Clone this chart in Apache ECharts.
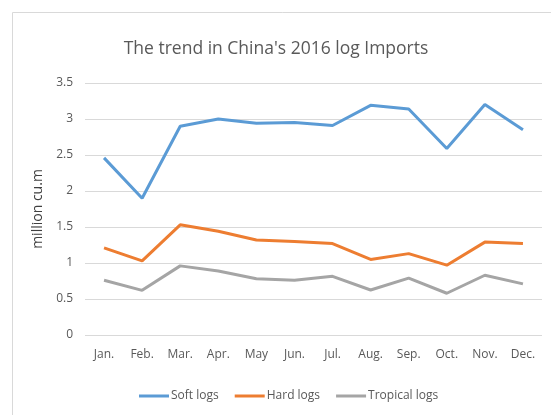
<!DOCTYPE html>
<html>
<head>
<meta charset="utf-8">
<script src="https://cdn.jsdelivr.net/npm/echarts@6/dist/echarts.min.js"></script>
<style>
  html, body { margin: 0; padding: 0; background: #fff; }
  #chart-container { width: 551px; height: 415px; }
</style>
</head>
<body>
<div id="chart-container"></div>
<script>
var months = ['Jan.', 'Feb.', 'Mar.', 'Apr.', 'May', 'Jun.', 'Jul.', 'Aug.', 'Sep.', 'Oct.', 'Nov.', 'Dec.'];
var softLogs = [2.46, 1.90, 2.90, 3.00, 2.94, 2.95, 2.91, 3.19, 3.14, 2.59, 3.20, 2.85];
var hardLogs = [1.21, 1.03, 1.53, 1.44, 1.32, 1.30, 1.27, 1.05, 1.13, 0.97, 1.29, 1.27];
var tropicalLogs = [0.76, 0.62, 0.96, 0.89, 0.78, 0.76, 0.815, 0.625, 0.79, 0.58, 0.83, 0.71];

var myChart = echarts.init(document.getElementById('chart-container'));
var font = 'Open Sans';

option = {
    animation: false,
    graphic: [
        {
            type: 'rect',
            shape: { x: 12.5, y: 12.5, width: 560, height: 430 },
            style: { fill: 'none', stroke: '#d9d9d9', lineWidth: 1 }
        }
    ],
    title: {
        text: "The trend in China's 2016 log Imports",
        left: 271,
        textAlign: 'center',
        top: 35,
        textStyle: { fontFamily: font, fontSize: 17.5, fontWeight: 'normal', color: '#595959' }
    },
    legend: {
        bottom: 8,
        left: 134,
        itemWidth: 30,
        itemHeight: 3,
        itemGap: 16,
        icon: 'rect',
        textStyle: { fontFamily: font, fontSize: 12, color: '#595959', padding: [0, 0, 0, -3] },
        data: ['Soft logs', 'Hard logs', 'Tropical logs']
    },
    grid: {
        left: 85,
        right: 9,
        top: 83,
        bottom: 80
    },
    xAxis: {
        type: 'category',
        data: months,
        boundaryGap: true,
        axisLine: { show: false },
        axisTick: { show: false },
        axisLabel: { fontFamily: font, fontSize: 12, color: '#595959', margin: 14 }
    },
    yAxis: {
        type: 'value',
        min: 0,
        max: 3.5,
        interval: 0.5,
        name: 'million cu.m',
        nameLocation: 'middle',
        nameGap: 30,
        nameTextStyle: { fontFamily: font, fontSize: 14, color: '#404040' },
        axisLine: { show: false },
        axisTick: { show: false },
        axisLabel: { fontFamily: font, fontSize: 12, color: '#595959', margin: 12 },
        splitLine: { lineStyle: { color: '#d9d9d9', width: 1 } }
    },
    series: [
        { name: 'Soft logs', type: 'line', data: softLogs, symbol: 'none', color: '#5B9BD5', lineStyle: { width: 3 } },
        { name: 'Hard logs', type: 'line', data: hardLogs, symbol: 'none', color: '#ED7D31', lineStyle: { width: 3 } },
        { name: 'Tropical logs', type: 'line', data: tropicalLogs, symbol: 'none', color: '#A5A5A5', lineStyle: { width: 3 } }
    ]
};

myChart.setOption(option);
</script>
</body>
</html>
